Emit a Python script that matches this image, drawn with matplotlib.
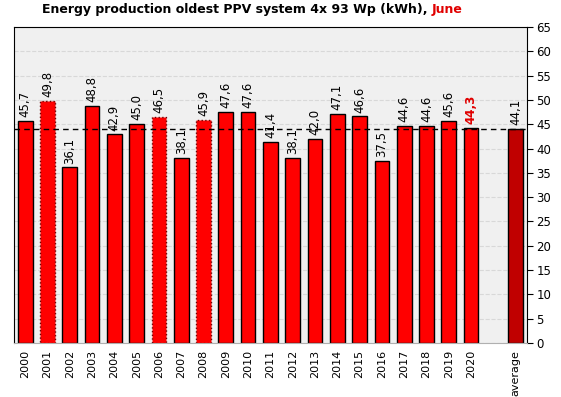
import matplotlib

matplotlib.use("Agg")
import matplotlib.pyplot as plt

years = [str(y) for y in range(2000, 2021)]
values = [45.7, 49.8, 36.1, 48.8, 42.9, 45.0, 46.5, 38.1, 45.9, 47.6, 47.6,
          41.4, 38.1, 42.0, 47.1, 46.6, 37.5, 44.6, 44.6, 45.6, 44.3]
average = 44.1
dotted_years = ["2001", "2006", "2008"]
title_main = "Energy production oldest PPV system 4x 93 Wp (kWh),"
title_month = "June"

fig = plt.figure(figsize=(5.61, 3.97), dpi=100)
ax = fig.add_axes([0.025, 0.136, 0.914, 0.796])
ax.set_facecolor("#f0f0f0")

# year bars
for i, (yr, v) in enumerate(zip(years, values)):
    if yr in dotted_years:
        ax.bar(i, v, width=0.66, color="red", edgecolor="#700000", linestyle=":", linewidth=1.0, zorder=2)
    else:
        ax.bar(i, v, width=0.66, color="red", edgecolor="black", linewidth=1.0, zorder=2)
    lbl = f"{v:.1f}".replace(".", ",")
    last = i == len(values) - 1
    ax.text(i, v + 0.8, lbl, rotation=90, ha="center", va="bottom",
            fontsize=8.5, color="#e00000" if last else "black",
            fontweight="bold" if last else "normal", zorder=4)

# average bar
avg_x = len(values) + 1
ax.bar(avg_x, average, width=0.66, color="#c00000", edgecolor="black", linewidth=1.0, zorder=2)
ax.text(avg_x, average + 0.8, f"{average:.1f}".replace(".", ","), rotation=90,
        ha="center", va="bottom", fontsize=8.5, zorder=4)
ax.axhline(average, color="black", linestyle=(0, (4, 3)), linewidth=1.0, zorder=3)

ax.set_xlim(-0.5, avg_x + 0.5)
ax.set_ylim(0, 65)
ax.set_yticks(range(0, 66, 5))
ax.yaxis.tick_right()
ax.tick_params(axis="y", direction="out", length=4, labelsize=8.5, pad=3)
ax.set_xticks(list(range(len(years))) + [avg_x])
ax.set_xticklabels(years + ["average"], rotation=90, fontsize=8)
ax.tick_params(axis="x", length=0, pad=5)
ax.grid(axis="y", color="#d8d8d8", linestyle="--", linewidth=0.8, zorder=0)
ax.set_axisbelow(True)
for side in ["left", "right", "top"]:
    ax.spines[side].set_color("black")
ax.spines["bottom"].set_color("#b0b0b0")

# two-colour title, centred as a whole
t1 = fig.text(0, 0.975, title_main + " ", fontsize=9, fontweight="bold", va="center", ha="left")
t2 = fig.text(0, 0.975, title_month, fontsize=9, fontweight="bold", color="#e00000", va="center", ha="left")
fig.canvas.draw()
w1 = t1.get_window_extent().width
w2 = t2.get_window_extent().width
x0 = 252 - (w1 + w2) / 2
t1.set_x(x0 / fig.bbox.width)
t2.set_x((x0 + w1) / fig.bbox.width)

fig.savefig("out.png", dpi=100)
